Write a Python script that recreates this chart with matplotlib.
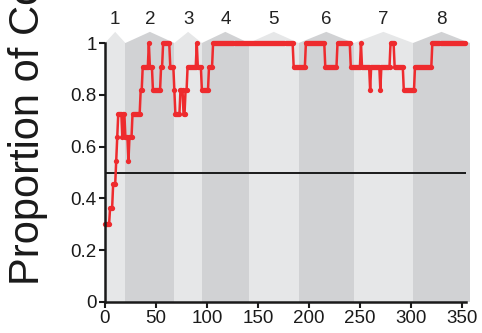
import numpy as np
import matplotlib
matplotlib.use("Agg")
import matplotlib.pyplot as plt
from matplotlib.patches import Polygon

# ---- data ----
run_values = [0.3, 0.364, 0.455, 0.545, 0.636, 0.727, 0.636, 0.727, 0.636, 0.545,
              0.636, 0.727, 0.818, 0.909, 1.0, 0.909, 0.818, 0.909, 1.0, 0.909,
              0.818, 0.727, 0.818, 0.727, 0.818, 0.909, 1.0, 0.909, 0.818, 0.909,
              1.0, 0.909, 1.0, 0.909, 1.0, 0.909, 1.0, 0.909, 0.818, 0.909,
              0.818, 0.909, 1.0, 0.909, 0.818, 0.909, 1.0]
run_lengths = [5, 3, 3, 1, 1, 4, 1, 2, 3, 1,
               3, 8, 2, 6, 1, 3, 8, 2, 7, 4,
               1, 5, 3, 2, 2, 9, 1, 4, 7, 4,
               79, 12, 19, 12, 13, 10, 1, 8, 1, 9,
               1, 9, 4, 9, 11, 17, 33]
block_edges = [0, 20, 68, 95, 141, 190, 244, 302, 358]
block_labels = ["1", "2", "3", "4", "5", "6", "7", "8"]
x_ticks = [0, 50, 100, 150, 200, 250, 300, 350]
y_ticks = [0, 0.2, 0.4, 0.6, 0.8, 1]
y_ticklabels = ["0", "0.2", "0.4", "0.6", "0.8", "1"]
criterion = 0.5

prop = np.repeat(run_values, run_lengths)
trials = np.arange(len(prop))

plt.rcParams['font.family'] = ['Liberation Sans', 'DejaVu Sans']

fig = plt.figure(figsize=(4.82, 3.33), dpi=100)
ax = fig.add_axes([105/482, 1-302/333, (466-105)/482, (302-43)/333])
ax.set_xlim(0, 354)
ax.set_ylim(0, 1.0)

light = '#e6e7e8'
dark = '#d1d2d4'
roof_h = 0.043
for i in range(len(block_edges)-1):
    x0, x1 = block_edges[i], block_edges[i+1]
    col = light if i % 2 == 0 else dark
    ax.axvspan(x0, x1, ymin=0, ymax=1, color=col, lw=0, zorder=0, clip_on=False)
    xc = (x0 + x1) / 2
    poly = Polygon([(x0, 1.0), (xc, 1.0 + roof_h), (x1, 1.0)], closed=True,
                   facecolor=col, edgecolor='none', clip_on=False, zorder=0)
    ax.add_patch(poly)
    ax.text(xc, 1.09, block_labels[i], ha='center', va='center', fontsize=13.5,
            color='#222222', clip_on=False)

ax.axhline(criterion, color='#1a1a1a', lw=1.4, zorder=2)
ax.plot(trials, prop, color='#ee2b2e', lw=1.8, marker='o', markersize=3.8,
        markeredgewidth=0, zorder=3, clip_on=False)

for s in ['top', 'right']:
    ax.spines[s].set_visible(False)
for s in ['left', 'bottom']:
    ax.spines[s].set_linewidth(1.8)
    ax.spines[s].set_color('#1a1a1a')
    ax.spines[s].set_zorder(4)

ax.set_xticks(x_ticks)
ax.set_yticks(y_ticks)
ax.set_yticklabels(y_ticklabels)
ax.tick_params(axis='both', direction='out', length=4, width=1.5, labelsize=13.5,
               colors='#1a1a1a', pad=2)

fig.text(28/482, 1-285/333, "Proportion of Correct", rotation=90, ha='center',
         va='bottom', fontsize=30, color='#1a1a1a')

fig.savefig("out.png", dpi=100)
